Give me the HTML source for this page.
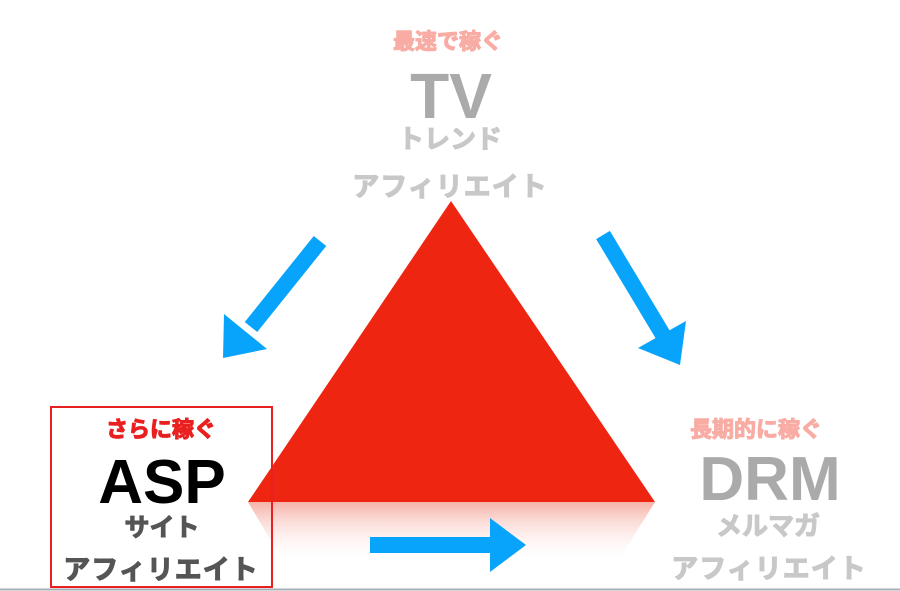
<!DOCTYPE html>
<html><head><meta charset="utf-8"><style>
html,body{margin:0;padding:0;background:#fff;}
svg{display:block}
text{font-family:"Liberation Sans","Noto Sans CJK JP",sans-serif;font-weight:bold;text-anchor:middle}
.j{stroke-width:1.1;stroke-linejoin:round}
</style></head><body>
<svg width="900" height="591" viewBox="0 0 900 591">
<defs>
<linearGradient id="rf" x1="0" y1="0" x2="0" y2="1">
<stop offset="0" stop-color="#f08070" stop-opacity="0.6"/>
<stop offset="0.7" stop-color="#ffffff" stop-opacity="0"/>
</linearGradient>
</defs>
<rect width="900" height="591" fill="#fff"/>
<polygon points="248,502 655,502 600,590 300,590" fill="url(#rf)"/>
<polygon points="451,201 655,502 248,502" fill="#ee2510"/>
<line x1="320" y1="241" x2="251" y2="327" stroke="#08a3fb" stroke-width="16"/>
<polygon points="223,358 224,314 267,349" fill="#08a3fb"/>
<line x1="603" y1="235" x2="663" y2="335" stroke="#08a3fb" stroke-width="16"/>
<polygon points="680,365 686,321 638,348" fill="#08a3fb"/>
<rect x="370" y="537" width="122" height="16" fill="#08a3fb"/>
<polygon points="490,518 526,545 490,572" fill="#08a3fb"/>
<rect x="51" y="407" width="221" height="180" fill="none" stroke="#e82020" stroke-width="2"/>
<text class="j" x="161" y="437" font-size="22" fill="#e82020" stroke="#e82020">さらに稼ぐ</text>
<text x="162" y="503" font-size="62" fill="#000">ASP</text>
<text class="j" x="162" y="536" font-size="25" fill="#555" stroke="#555">サイト</text>
<text class="j" x="161" y="579" font-size="27" fill="#555" stroke="#555" letter-spacing="1">アフィリエイト</text>
<text class="j" x="448" y="49" font-size="22" fill="#f8aca4" stroke="#f8aca4">最速で稼ぐ</text>
<text x="451" y="118" font-size="64" fill="#aaa">TV</text>
<text class="j" x="450" y="148" font-size="26" fill="#c8c8c8" stroke="#c8c8c8">トレンド</text>
<text class="j" x="450" y="196" font-size="27" fill="#c8c8c8" stroke="#c8c8c8" letter-spacing="1">アフィリエイト</text>
<text class="j" x="756" y="437" font-size="22" fill="#f8aca4" stroke="#f8aca4">長期的に稼ぐ</text>
<text x="770" y="500" font-size="62" fill="#aaa">DRM</text>
<text class="j" x="768" y="535" font-size="26" fill="#c8c8c8" stroke="#c8c8c8">メルマガ</text>
<text class="j" x="769" y="578" font-size="27" fill="#c8c8c8" stroke="#c8c8c8" letter-spacing="1">アフィリエイト</text>
<line x1="0" y1="589.5" x2="900" y2="589.5" stroke="#a8adb3" stroke-width="2"/>
</svg>
</body></html>
